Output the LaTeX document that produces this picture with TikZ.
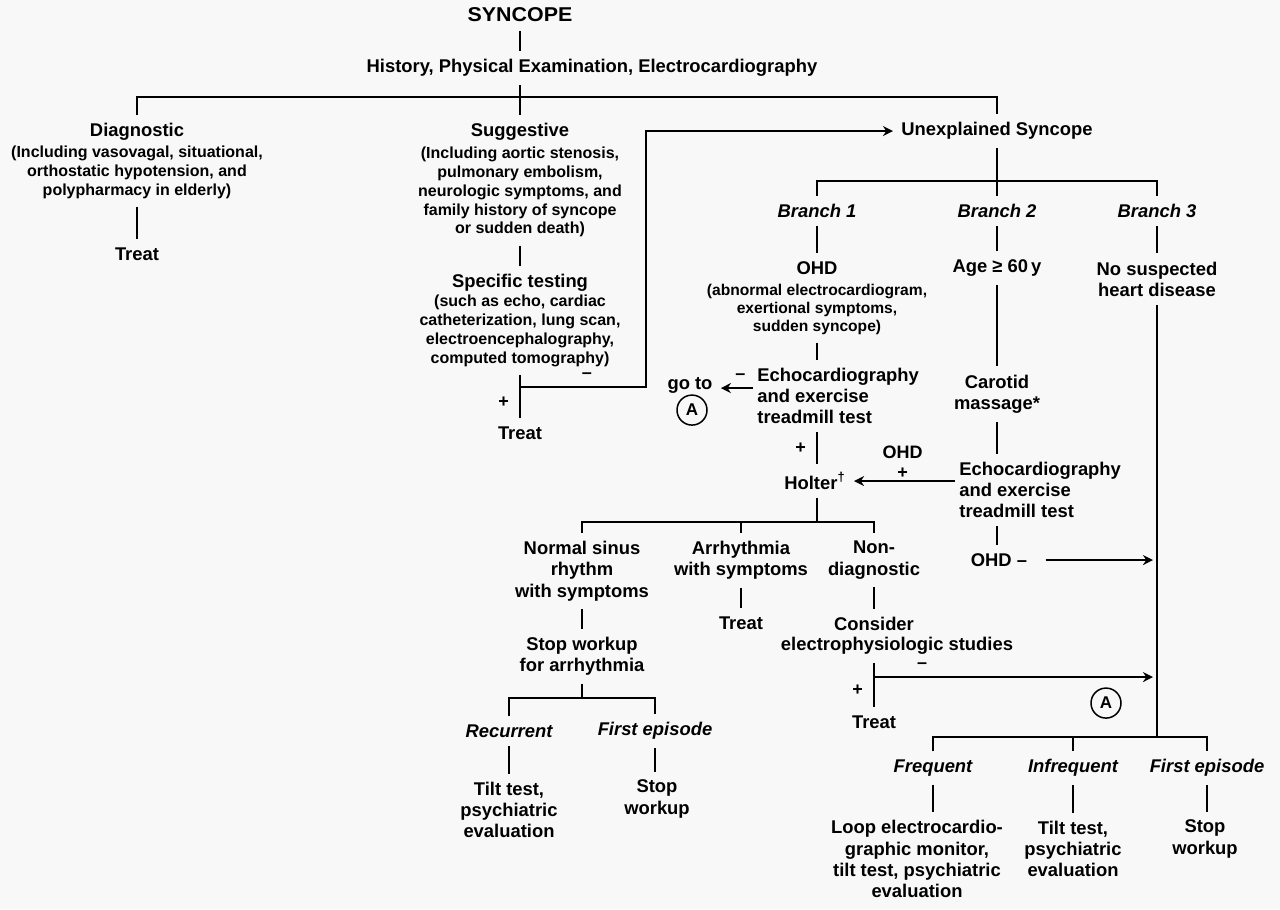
\documentclass[tikz,border=0pt]{standalone}
\usepackage{fontspec}
\setmainfont{Liberation Sans}
\usetikzlibrary{arrows.meta}

\definecolor{paper}{RGB}{248,248,248}

\tikzset{
  every node/.style={inner xsep=2pt, inner ysep=4pt},
  head/.style={font=\fontsize{10}{12}\selectfont\bfseries},
  box/.style={align=center, font=\fontsize{9.2}{10.6}\selectfont\bfseries},
  note/.style={align=center, font=\fontsize{8}{9.4}\selectfont\bfseries},
  fine/.style={align=center, font=\fontsize{7.8}{9}\selectfont\bfseries},
  branch/.style={font=\fontsize{9.2}{11}\selectfont\bfseries\itshape},
  sign/.style={font=\fontsize{9}{10}\selectfont\bfseries, inner sep=1pt},
  circ/.style={draw, circle, line width=0.75pt, minimum size=15pt, inner sep=0pt,
    font=\fontsize{8.5}{9}\selectfont\bfseries},
  link/.style={line width=1pt},
  arrow/.style={link, -{Stealth[length=5pt,width=5pt]}, shorten >=2pt},
}

\begin{document}
\begin{tikzpicture}[x=0.5pt, y=-0.5pt]
\fill[paper] (0,0) rectangle (1280,909);

\node[head] (syncope) at (520,15) {\scalebox{1.07}[1]{SYNCOPE}};
\node[box] (hist) at (592,68) {History, Physical Examination, Electrocardiography};
\coordinate (bar1) at (520,97);

\node[box] (diag) at (137,132) {Diagnostic};
\node[note] (diagnote) at (137,172) {(Including vasovagal, situational,\\orthostatic hypotension, and\\polypharmacy in elderly)};
\node[box] (treat1) at (137,254) {Treat};

\node[box] (sugg) at (520,132) {Suggestive};
\node[note] (suggnote) at (520,192) {(Including aortic stenosis,\\pulmonary embolism,\\neurologic symptoms, and\\family history of syncope\\or sudden death)};
\node[box] (spec) at (520,283) {Specific testing};
\node[note] (specnote) at (520,331) {(such as echo, cardiac\\catheterization, lung scan,\\electroencephalography,\\computed tomography)};
\node[box] (treat2) at (520,433) {Treat};
\coordinate (split2) at (520,387);
\coordinate (turn2) at (646,131);

\node[box] (unex) at (997,131) {Unexplained Syncope};
\coordinate (bar2) at (997,181);
\node[branch] (br1) at (817,211) {Branch 1};
\node[branch] (br2) at (997,211) {Branch 2};
\node[branch] (br3) at (1157,211) {Branch 3};

\node[box] (ohd) at (817,268) {OHD};
\node[fine] (ohdnote) at (817,309) {(abnormal electrocardiogram,\\exertional symptoms,\\sudden syncope)};
\node[box, align=left, anchor=west] (echo1) at (753,396) {Echocardiography\\and exercise\\treadmill test};
\node[box] (goto) at (690,385) {go to};
\node[circ] (circ1) at (692,410) {A};
\node[box] (holter) at (815,481) {Holter\textsuperscript{\dag}};

\node[box] (age) at (997,268) {Age ≥ 60\,y};
\node[box] (carotid) at (997,394) {Carotid\\massage*};
\node[box, align=left, anchor=west] (echo2) at (955,490) {Echocardiography\\and exercise\\treadmill test};
\node[box] (ohdneg) at (999,560) {OHD –};

\node[box] (nosusp) at (1157,279) {No suspected\\heart disease};
\coordinate (bar5) at (1157,737);

\coordinate (bar3) at (817,522);
\node[box] (normal) at (582,571) {Normal sinus\\rhythm\\with symptoms};
\node[box] (arrhy) at (741,560) {Arrhythmia\\with symptoms};
\node[box] (nondiag) at (874,560) {Non-\\diagnostic};
\node[box] (treat3) at (741,623) {Treat};
\node[box] (consider) at (874,624) {Consider};
\node[box] (ephys) at (897,646) {electrophysiologic studies};
\node[box] (treat4) at (874,722) {Treat};
\coordinate (split4) at (874,677);
\node[circ] (circ2) at (1106,703) {A};

\node[box] (stop1) at (582,656) {Stop workup\\for arrhythmia};
\coordinate (bar4) at (582,698);
\node[branch] (recur) at (509,731) {Recurrent};
\node[branch] (first1) at (655,731) {First episode};
\node[box] (tilt1) at (509,810) {Tilt test,\\psychiatric\\evaluation};
\node[box] (stop2) at (657,799) {Stop\\workup};

\node[branch] (freq) at (933,768) {Frequent};
\node[branch] (infreq) at (1073,768) {Infrequent};
\node[branch] (first2) at (1207,768) {First episode};
\node[box] (loop) at (917,859) {Loop electrocardio-\\graphic monitor,\\tilt test, psychiatric\\evaluation};
\node[box] (tilt2) at (1073,849) {Tilt test,\\psychiatric\\evaluation};
\node[box] (stop3) at (1205,839) {Stop\\workup};

\draw[link] (syncope) -- (syncope |- hist.north);
\draw[link] (hist.south -| bar1) -- (bar1);
\draw[link] (diag) |- (bar1) -| (unex);
\draw[link] (bar1) -- (sugg);
\draw[link] (diagnote) -- (treat1);
\draw[link] (suggnote) -- (spec);
\draw[link] (specnote) -- (treat2) node[sign, pos=0.62, left=4pt] {+};
\draw[arrow] (split2) -| node[sign, pos=0.265, above=3pt] {–} (turn2) -- (unex);

\draw[link] (unex) -- (bar2);
\draw[link] (br1) |- (bar2) -| (br3);
\draw[link] (bar2) -- (br2);

\draw[link] (br1) -- (ohd);
\draw[link] (ohdnote) -- (ohdnote |- echo1.north);
\draw[arrow] ([yshift=4pt]echo1.west) -- ([yshift=4pt]echo1.west -| goto.east)
  node[sign, pos=0.35, above=3pt] {–};
\draw[link] (echo1.south -| ohd) -- (holter.north -| ohd) node[sign, midway, left=4pt] {+};

\draw[link] (br2) -- (age);
\draw[link] (age) -- (carotid);
\draw[link] (carotid) -- (carotid |- echo2.north);
\draw[arrow] (echo2.west |- holter) -- (holter)
  node[sign, midway, above=0pt, align=center] {OHD\\+};
\draw[link] (echo2.south -| carotid) -- (ohdneg.north -| carotid);
\draw[arrow, shorten <=7pt] (ohdneg.east) -- (ohdneg.east -| nosusp);

\draw[link] (br3) -- (nosusp);
\draw[link] (nosusp) -- (bar5);
\draw[link] (freq) |- (bar5) -| (first2);
\draw[link] (bar5 -| infreq) -- (infreq);

\draw[link] (holter.south -| bar3) -- (bar3);
\draw[link] (normal) |- (bar3) -| (nondiag);
\draw[link] (bar3 -| arrhy) -- (arrhy);
\draw[link] (arrhy) -- (treat3);
\draw[link] (nondiag) -- (consider);
\draw[link] (ephys.south -| consider) -- (treat4) node[sign, pos=0.62, left=4pt] {+};
\draw[arrow] (split4) -- (split4 -| nosusp) node[sign, pos=0.17, above=3pt] {–};

\draw[link] (normal) -- (stop1);
\draw[link] (stop1) -- (bar4);
\draw[link] (recur) |- (bar4) -| (first1);
\draw[link] (recur) -- (tilt1);
\draw[link] (first1) -- (first1 |- stop2.north);

\draw[link] (freq) -- (freq |- loop.north);
\draw[link] (infreq) -- (tilt2);
\draw[link] (first2) -- (first2 |- stop3.north);
\end{tikzpicture}
\end{document}
